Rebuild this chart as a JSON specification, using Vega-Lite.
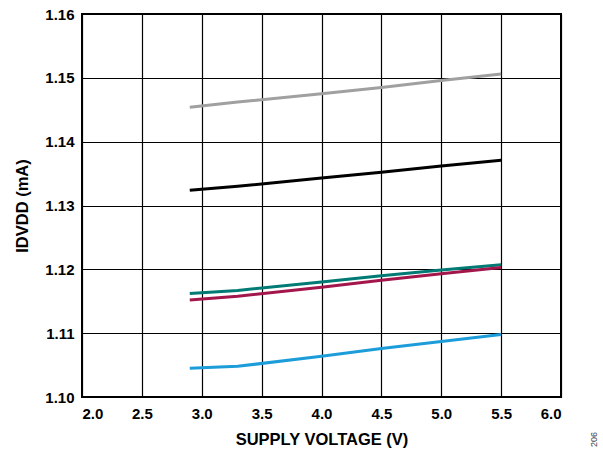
{
  "$schema": "https://vega.github.io/schema/vega-lite/v6.json",
  "width": 479,
  "height": 383,
  "autosize": {"type": "none"},
  "padding": {"left": 82, "top": 14, "right": 42, "bottom": 54},
  "background": "white",
  "config": {
    "view": {"stroke": "black", "strokeWidth": 2},
    "font": "Liberation Sans",
    "axis": {
      "grid": true,
      "gridColor": "black",
      "gridOpacity": 1,
      "gridWidth": 1.2,
      "domain": false,
      "ticks": false,
      "labelFont": "Liberation Sans",
      "labelFontSize": 15,
      "labelFontWeight": "bold",
      "labelColor": "black",
      "titleFont": "Liberation Sans",
      "titleFontSize": 16.5,
      "titleFontWeight": "bold",
      "titleColor": "black"
    }
  },
  "title": {
    "text": "206",
    "orient": "right",
    "anchor": "end",
    "frame": "group",
    "angle": -90,
    "fontSize": 9,
    "fontWeight": "normal",
    "color": "#444444",
    "font": "Liberation Sans",
    "offset": 20,
    "dx": -35
  },
  "data": {
    "values": [
      {"v": 2.9, "i": 1.1454, "s": "A"}, {"v": 3.3, "i": 1.1462, "s": "A"}, {"v": 4.0, "i": 1.1475, "s": "A"}, {"v": 4.5, "i": 1.1485, "s": "A"}, {"v": 5.0, "i": 1.1496, "s": "A"}, {"v": 5.5, "i": 1.1506, "s": "A"},
      {"v": 2.9, "i": 1.1324, "s": "B"}, {"v": 3.3, "i": 1.1330, "s": "B"}, {"v": 4.0, "i": 1.1343, "s": "B"}, {"v": 4.5, "i": 1.1352, "s": "B"}, {"v": 5.0, "i": 1.1362, "s": "B"}, {"v": 5.5, "i": 1.1371, "s": "B"},
      {"v": 2.9, "i": 1.1162, "s": "C"}, {"v": 3.3, "i": 1.1167, "s": "C"}, {"v": 4.0, "i": 1.1180, "s": "C"}, {"v": 4.5, "i": 1.1190, "s": "C"}, {"v": 5.0, "i": 1.1199, "s": "C"}, {"v": 5.5, "i": 1.1207, "s": "C"},
      {"v": 2.9, "i": 1.1152, "s": "D"}, {"v": 3.3, "i": 1.1158, "s": "D"}, {"v": 4.0, "i": 1.1172, "s": "D"}, {"v": 4.5, "i": 1.1183, "s": "D"}, {"v": 5.0, "i": 1.1193, "s": "D"}, {"v": 5.5, "i": 1.1203, "s": "D"},
      {"v": 2.9, "i": 1.1045, "s": "E"}, {"v": 3.3, "i": 1.1048, "s": "E"}, {"v": 4.0, "i": 1.1064, "s": "E"}, {"v": 4.5, "i": 1.1076, "s": "E"}, {"v": 5.0, "i": 1.1087, "s": "E"}, {"v": 5.5, "i": 1.1098, "s": "E"}
    ]
  },
  "mark": {"type": "line", "strokeWidth": 3},
  "encoding": {
    "x": {
      "field": "v",
      "type": "quantitative",
      "scale": {"domain": [2.0, 6.0], "nice": false, "zero": false},
      "axis": {"values": [2.0, 2.5, 3.0, 3.5, 4.0, 4.5, 5.0, 5.5, 6.0], "format": ".1f", "title": "SUPPLY VOLTAGE (V)", "labelPadding": 9, "titlePadding": 10}
    },
    "y": {
      "field": "i",
      "type": "quantitative",
      "scale": {"domain": [1.10, 1.16], "nice": false, "zero": false},
      "axis": {"values": [1.10, 1.11, 1.12, 1.13, 1.14, 1.15, 1.16], "format": ".2f", "title": "IDVDD (mA)", "labelPadding": 8, "titlePadding": 14}
    },
    "color": {
      "field": "s",
      "type": "nominal",
      "scale": {"domain": ["A", "B", "C", "D", "E"], "range": ["#a0a0a0", "#000000", "#007a74", "#a3164b", "#1c9dd9"]},
      "legend": null
    }
  }
}
